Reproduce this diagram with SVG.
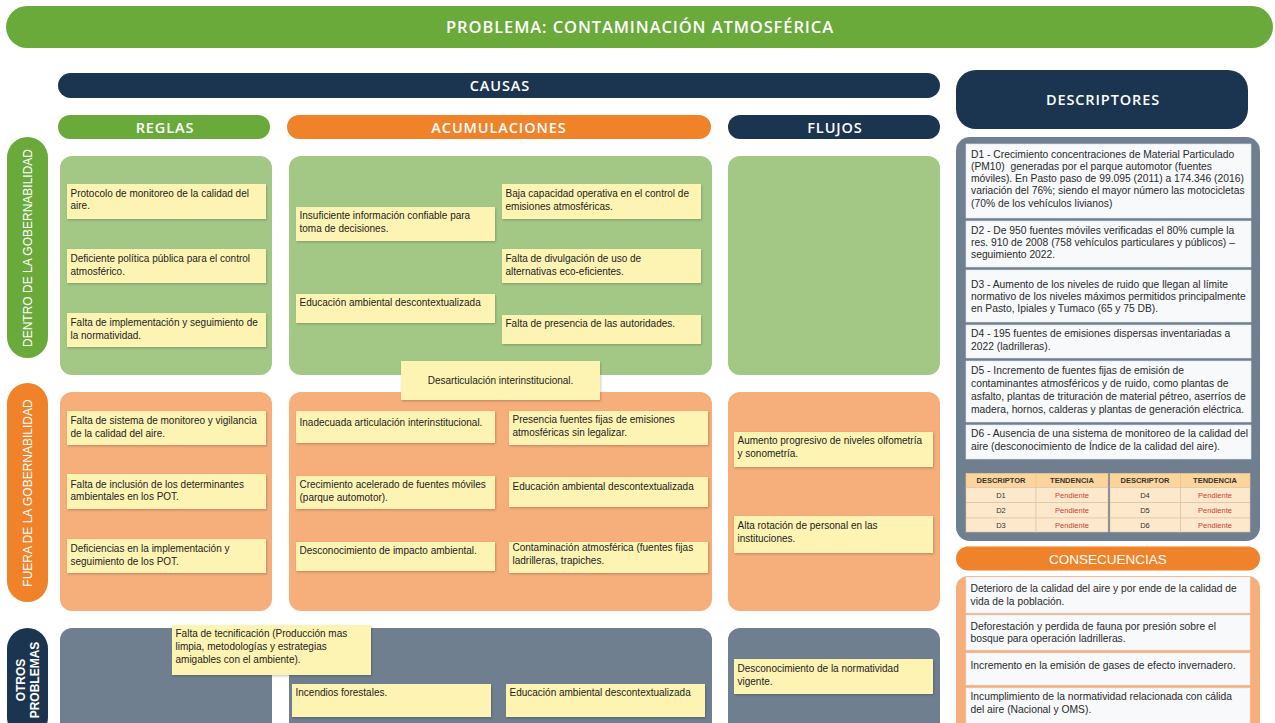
<svg xmlns="http://www.w3.org/2000/svg" width="1275" height="723" viewBox="0 0 1275 723">
<defs>
<filter id="sh" x="-5%" y="-10%" width="110%" height="130%">
<feDropShadow dx="0.8" dy="1.2" stdDeviation="0.8" flood-color="#000" flood-opacity="0.22"/>
</filter>
<style>
.hd{font-family:"Open Sans","Liberation Sans",sans-serif;font-weight:600;fill:#fff;text-anchor:middle;letter-spacing:0.9px}
.vl{font-family:"Liberation Sans",Arial,sans-serif;font-size:12px;fill:#fff;text-anchor:middle}
.t{font-family:"Liberation Sans",Arial,sans-serif;font-size:10px;fill:#222}
.d{font-family:"Liberation Sans",Arial,sans-serif;font-size:10.3px;fill:#2a2a2a}
.note{fill:#fdf4b3;filter:url(#sh)}
.wb{fill:#f7f9fb;stroke:#dde3ea;stroke-width:0.6}
.g{fill:#a3c886}
.o{fill:#f6ae7a}
.s{fill:#6f7f8f}
.nv{fill:#1b3550}
.gr{fill:#6aaa3a}
.or{fill:#f0822a}
.th{font-family:"Liberation Sans",Arial,sans-serif;font-size:7.5px;font-weight:bold;fill:#333;text-anchor:middle}
.tc{font-family:"Liberation Sans",Arial,sans-serif;font-size:7.5px;fill:#333;text-anchor:middle}
.tp{font-family:"Liberation Sans",Arial,sans-serif;font-size:7.5px;fill:#c8423a;text-anchor:middle}
.hc{fill:#fbd59c;stroke:#e9c594;stroke-width:0.6}
.rc{fill:#fde8cc;stroke:#dcc4a6;stroke-width:0.6}
</style>
</defs>
<rect width="1275" height="723" fill="#fff"/>

<g id="title">
<rect x="6" y="6" width="1267" height="42" rx="21" class="gr"/>
<text x="640" y="33" class="hd" font-size="16.5" letter-spacing="1">PROBLEMA: CONTAMINACIÓN ATMOSFÉRICA</text>
</g>

<g id="causas">
<rect x="58" y="73" width="882" height="25" rx="12.5" class="nv"/>
<text x="500" y="91" class="hd" font-size="14.5" letter-spacing="1.3">CAUSAS</text>
</g>
<g id="reglas-h">
<rect x="58" y="115" width="212" height="24" rx="12" class="gr"/>
<text x="165" y="132.5" class="hd" font-size="14.5">REGLAS</text>
</g>
<g id="acumulaciones-h">
<rect x="287" y="115" width="424" height="24" rx="12" class="or"/>
<text x="499" y="132.5" class="hd" font-size="14.5">ACUMULACIONES</text>
</g>
<g id="flujos-h">
<rect x="728" y="115" width="212" height="24" rx="12" class="nv"/>
<text x="835" y="132.5" class="hd" font-size="14.5">FLUJOS</text>
</g>

<g id="dentro-label">
<rect x="7" y="137" width="41" height="221" rx="20.5" class="gr"/>
<text class="vl" transform="translate(32,248) rotate(-90)">DENTRO DE LA GOBERNABILIDAD</text>
</g>
<g id="fuera-label">
<rect x="7" y="383" width="41" height="219" rx="20.5" class="or"/>
<text class="vl" transform="translate(32,493) rotate(-90)">FUERA DE LA GOBERNABILIDAD</text>
</g>
<g id="otros-label">
<rect x="7" y="628" width="41" height="110" rx="20.5" class="nv"/>
<text class="vl" font-weight="bold" transform="translate(25,680) rotate(-90)">OTROS</text>
<text class="vl" font-weight="bold" transform="translate(39,680) rotate(-90)">PROBLEMAS</text>
</g>

<g id="panels">
<rect x="60" y="156" width="212" height="219" rx="12" class="g"/>
<rect x="289" y="156" width="423" height="219" rx="12" class="g"/>
<rect x="728" y="156" width="212" height="219" rx="12" class="g"/>
<rect x="60" y="392" width="212" height="219" rx="12" class="o"/>
<rect x="289" y="392" width="423" height="219" rx="12" class="o"/>
<rect x="728" y="392" width="212" height="219" rx="12" class="o"/>
<rect x="60" y="628" width="212" height="110" rx="12" class="s"/>
<rect x="289" y="628" width="423" height="110" rx="12" class="s"/>
<rect x="728" y="628" width="212" height="110" rx="12" class="s"/>
</g>

<g id="r-dentro-1"><rect x="67" y="184" width="199" height="35" class="note"/><text class="t" x="70.5" y="196.5">Protocolo de monitoreo de la calidad del</text><text class="t" x="70.5" y="209">aire.</text></g>
<g id="r-dentro-2"><rect x="67" y="249" width="199" height="34" class="note"/><text class="t" x="70.5" y="262">Deficiente política pública para el control</text><text class="t" x="70.5" y="274.5">atmosférico.</text></g>
<g id="r-dentro-3"><rect x="67" y="313" width="199" height="34" class="note"/><text class="t" x="70.5" y="326">Falta de implementación y seguimiento de</text><text class="t" x="70.5" y="338.5">la normatividad.</text></g>

<g id="a-dentro-1"><rect x="296" y="207" width="199" height="34" class="note"/><text class="t" x="299.5" y="218.5">Insuficiente información confiable para</text><text class="t" x="299.5" y="231.5">toma de decisiones.</text></g>
<g id="a-dentro-2"><rect x="296" y="294" width="199" height="29" class="note"/><text class="t" x="299.5" y="306">Educación ambiental descontextualizada</text></g>
<g id="a-dentro-3"><rect x="502" y="184" width="199" height="35" class="note"/><text class="t" x="505.5" y="197">Baja capacidad operativa en el control de</text><text class="t" x="505.5" y="209.5">emisiones atmosféricas.</text></g>
<g id="a-dentro-4"><rect x="502" y="249" width="199" height="34" class="note"/><text class="t" x="505.5" y="262">Falta de divulgación de uso de</text><text class="t" x="505.5" y="275">alternativas eco-eficientes.</text></g>
<g id="a-dentro-5"><rect x="502" y="315" width="199" height="29" class="note"/><text class="t" x="505.5" y="327">Falta de presencia de las autoridades.</text></g>
<g id="desarticulacion"><rect x="401" y="361" width="199" height="39" class="note"/><text class="t" x="500.5" y="384" text-anchor="middle">Desarticulación interinstitucional.</text></g>

<g id="r-fuera-1"><rect x="67" y="411" width="199" height="34" class="note"/><text class="t" x="70.5" y="424">Falta de sistema de monitoreo y vigilancia</text><text class="t" x="70.5" y="437">de la calidad del aire.</text></g>
<g id="r-fuera-2"><rect x="67" y="474" width="199" height="35" class="note"/><text class="t" x="70.5" y="487.5">Falta de inclusión de los determinantes</text><text class="t" x="70.5" y="500">ambientales en los POT.</text></g>
<g id="r-fuera-3"><rect x="67" y="539" width="199" height="34" class="note"/><text class="t" x="70.5" y="552">Deficiencias en la implementación y</text><text class="t" x="70.5" y="565">seguimiento de los POT.</text></g>

<g id="a-fuera-1"><rect x="296" y="411" width="199" height="32" class="note"/><text class="t" x="299.5" y="426">Inadecuada articulación interinstitucional.</text></g>
<g id="a-fuera-2"><rect x="296" y="476" width="199" height="33" class="note"/><text class="t" x="299.5" y="487.5">Crecimiento acelerado de fuentes móviles</text><text class="t" x="299.5" y="501">(parque automotor).</text></g>
<g id="a-fuera-3"><rect x="296" y="542" width="199" height="29" class="note"/><text class="t" x="299.5" y="554">Desconocimiento de impacto ambiental.</text></g>
<g id="a-fuera-4"><rect x="509" y="411" width="199" height="34" class="note"/><text class="t" x="512.5" y="423">Presencia fuentes fijas de emisiones</text><text class="t" x="512.5" y="436">atmosféricas sin legalizar.</text></g>
<g id="a-fuera-5"><rect x="509" y="477" width="199" height="30" class="note"/><text class="t" x="512.5" y="490">Educación ambiental descontextualizada</text></g>
<g id="a-fuera-6"><rect x="509" y="542" width="199" height="31" class="note"/><text class="t" x="512.5" y="551">Contaminación atmosférica (fuentes fijas</text><text class="t" x="512.5" y="564">ladrilleras, trapiches.</text></g>

<g id="f-fuera-1"><rect x="734" y="432" width="199" height="35" class="note"/><text class="t" x="737.5" y="444">Aumento progresivo de niveles olfometría</text><text class="t" x="737.5" y="457">y sonometría.</text></g>
<g id="f-fuera-2"><rect x="734" y="516" width="199" height="37" class="note"/><text class="t" x="737.5" y="529">Alta rotación de personal en las</text><text class="t" x="737.5" y="542">instituciones.</text></g>

<g id="o-1"><rect x="172" y="625" width="199" height="50" class="note"/><text class="t" x="175.5" y="637">Falta de tecnificación (Producción mas</text><text class="t" x="175.5" y="650">limpia, metodologías y estrategias</text><text class="t" x="175.5" y="663">amigables con el ambiente).</text></g>
<g id="o-2"><rect x="292" y="684" width="199" height="33" class="note"/><text class="t" x="295.5" y="696">Incendios forestales.</text></g>
<g id="o-3"><rect x="506" y="684" width="199" height="33" class="note"/><text class="t" x="509.5" y="696">Educación ambiental descontextualizada</text></g>
<g id="o-4"><rect x="734" y="659" width="199" height="35" class="note"/><text class="t" x="737.5" y="672">Desconocimiento de la normatividad</text><text class="t" x="737.5" y="685">vigente.</text></g>

<g id="descriptores-h">
<rect x="956" y="70" width="292" height="59" rx="20" class="nv"/>
<text x="1103" y="105" class="hd" font-size="14.5">DESCRIPTORES</text>
</g>

<g id="descriptores">
<rect x="956" y="137" width="304" height="404" rx="14" class="s"/>
<g id="d1"><rect x="966" y="144" width="285" height="74" class="wb"/>
<text class="d" x="971" y="157.5">D1 - Crecimiento concentraciones de Material Particulado</text>
<text class="d" x="971" y="170" xml:space="preserve">(PM10)  generadas por el parque automotor (fuentes</text>
<text class="d" x="971" y="182">móviles). En Pasto paso de 99.095 (2011) a 174.346 (2016)</text>
<text class="d" x="971" y="194">variación del 76%; siendo el mayor número las motocicletas</text>
<text class="d" x="971" y="206.5">(70% de los vehículos livianos)</text></g>
<g id="d2"><rect x="966" y="221" width="285" height="46" class="wb"/>
<text class="d" x="971" y="234">D2 - De 950 fuentes móviles verificadas el 80% cumple la</text>
<text class="d" x="971" y="246">res. 910 de 2008 (758 vehículos particulares y públicos) –</text>
<text class="d" x="971" y="258">seguimiento 2022.</text></g>
<g id="d3"><rect x="966" y="270" width="285" height="52" class="wb"/>
<text class="d" x="971" y="288">D3 - Aumento de los niveles de ruido que llegan al límite</text>
<text class="d" x="971" y="299.5">normativo de los niveles máximos permitidos principalmente</text>
<text class="d" x="971" y="311.5">en Pasto, Ipiales y Tumaco (65 y 75 DB).</text></g>
<g id="d4"><rect x="966" y="325" width="285" height="33" class="wb"/>
<text class="d" x="971" y="337">D4 - 195 fuentes de emisiones dispersas inventariadas a</text>
<text class="d" x="971" y="349.5">2022 (ladrilleras).</text></g>
<g id="d5"><rect x="966" y="361" width="285" height="61" class="wb"/>
<text class="d" x="971" y="373.5">D5 - Incremento de fuentes fijas de emisión de</text>
<text class="d" x="971" y="386.5">contaminantes atmosféricos y de ruido, como plantas de</text>
<text class="d" x="971" y="399.5">asfalto, plantas de trituración de material pétreo, aserríos de</text>
<text class="d" x="971" y="412.5">madera, hornos, calderas y plantas de generación eléctrica.</text></g>
<g id="d6"><rect x="966" y="425" width="285" height="34" class="wb"/>
<text class="d" x="971" y="437">D6 - Ausencia de una sistema de monitoreo de la calidad del</text>
<text class="d" x="971" y="450">aire (desconocimiento de Índice de la calidad del aire).</text></g>
<g id="tabla">
<rect x="966" y="473.3" width="70" height="14" class="hc"/><rect x="1036" y="473.3" width="72" height="14" class="hc"/>
<rect x="1110" y="473.3" width="70.5" height="14" class="hc"/><rect x="1180.5" y="473.3" width="69.5" height="14" class="hc"/>
<rect x="966" y="487.3" width="70" height="15.4" class="rc"/><rect x="1036" y="487.3" width="72" height="15.4" class="rc"/>
<rect x="1110" y="487.3" width="70.5" height="15.4" class="rc"/><rect x="1180.5" y="487.3" width="69.5" height="15.4" class="rc"/>
<rect x="966" y="502.7" width="70" height="15.3" class="rc"/><rect x="1036" y="502.7" width="72" height="15.3" class="rc"/>
<rect x="1110" y="502.7" width="70.5" height="15.3" class="rc"/><rect x="1180.5" y="502.7" width="69.5" height="15.3" class="rc"/>
<rect x="966" y="518" width="70" height="14" class="rc"/><rect x="1036" y="518" width="72" height="14" class="rc"/>
<rect x="1110" y="518" width="70.5" height="14" class="rc"/><rect x="1180.5" y="518" width="69.5" height="14" class="rc"/>
<text class="th" x="1001" y="483">DESCRIPTOR</text><text class="th" x="1072" y="483">TENDENCIA</text>
<text class="th" x="1145" y="483">DESCRIPTOR</text><text class="th" x="1215" y="483">TENDENCIA</text>
<text class="tc" x="1001" y="497.7">D1</text><text class="tp" x="1072" y="497.7">Pendiente</text>
<text class="tc" x="1145" y="497.7">D4</text><text class="tp" x="1215" y="497.7">Pendiente</text>
<text class="tc" x="1001" y="513">D2</text><text class="tp" x="1072" y="513">Pendiente</text>
<text class="tc" x="1145" y="513">D5</text><text class="tp" x="1215" y="513">Pendiente</text>
<text class="tc" x="1001" y="527.7">D3</text><text class="tp" x="1072" y="527.7">Pendiente</text>
<text class="tc" x="1145" y="527.7">D6</text><text class="tp" x="1215" y="527.7">Pendiente</text>
</g>
</g>

<g id="consecuencias-h">
<rect x="956" y="546.5" width="304" height="24" rx="12" class="or"/>
<text x="1108" y="563.5" font-family="Liberation Sans, Arial, sans-serif" font-size="13.5" fill="#fff" text-anchor="middle">CONSECUENCIAS</text>
</g>
<g id="consecuencias">
<rect x="956" y="576" width="304" height="160" rx="12" class="o"/>
<g id="c1"><rect x="966" y="577" width="284" height="36" class="wb"/><text class="d" x="970.5" y="592">Deterioro de la calidad del aire y por ende de la calidad de</text><text class="d" x="970.5" y="604.5">vida de la población.</text></g>
<g id="c2"><rect x="966" y="615" width="284" height="35" class="wb"/><text class="d" x="970.5" y="629.5">Deforestación y perdida de fauna por presión sobre el</text><text class="d" x="970.5" y="642">bosque para operación ladrilleras.</text></g>
<g id="c3"><rect x="966" y="653" width="284" height="32" class="wb"/><text class="d" x="970.5" y="669">Incremento en la emisión de gases de efecto invernadero.</text></g>
<g id="c4"><rect x="966" y="688" width="284" height="40" class="wb"/><text class="d" x="970.5" y="700">Incumplimiento de la normatividad relacionada con cálida</text><text class="d" x="970.5" y="713">del aire (Nacional y OMS).</text></g>
</g>

<g id="connectors"/>
</svg>
